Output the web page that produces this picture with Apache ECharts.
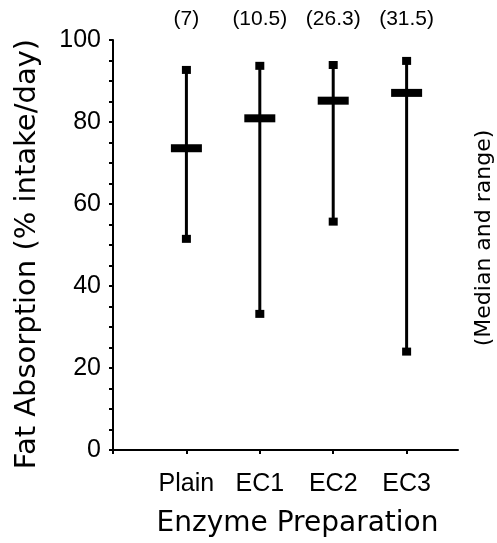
<!DOCTYPE html>
<html>
<head>
<meta charset="utf-8">
<script src="https://cdn.jsdelivr.net/npm/echarts@6/dist/echarts.min.js"></script>
<style>
  html, body { margin: 0; background: #fff; }
  #chart { width: 497px; height: 543px; }
</style>
</head>
<body>
<div id="chart"></div>
<script>
// data
const groups = ['Plain', 'EC1', 'EC2', 'EC3']
const counts = ['(7)', '(10.5)', '(26.3)', '(31.5)']
const medians = [73.6, 80.9, 85.2, 87.1]
const lows = [51.5, 33.2, 55.7, 24.0]
const highs = [92.7, 93.7, 93.9, 94.9]
const yLabels = [0, 20, 40, 60, 80, 100]

const positions = groups.map((g, i) => i + 1)
const rows = groups.map((g, i) => [positions[i], lows[i], medians[i], highs[i]])

const chart = echarts.init(document.getElementById('chart'))

// range line with square ends and a thick median bar
const renderItem = (params, api) => {
  const x = api.value(0)
  const top = api.coord([x, api.value(3)])
  const mid = api.coord([x, api.value(2)])
  const bot = api.coord([x, api.value(1)])
  const black = { fill: '#000' }
  return {
    type: 'group',
    children: [
      { type: 'line', shape: { x1: top[0], y1: top[1], x2: bot[0], y2: bot[1] }, style: { stroke: '#000', lineWidth: 3 } },
      { type: 'rect', shape: { x: top[0] - 4.5, y: top[1] - 4, width: 9, height: 8 }, style: black },
      { type: 'rect', shape: { x: bot[0] - 4.5, y: bot[1] - 4, width: 9, height: 8 }, style: black },
      { type: 'rect', shape: { x: mid[0] - 15.5, y: mid[1] - 4, width: 31, height: 8 }, style: black }
    ]
  }
}

const axisLine = { show: true, lineStyle: { color: '#000', width: 2 } }

chart.setOption({
  backgroundColor: '#fff',
  animation: false,
  grid: { left: 113, right: 39, top: 40, bottom: 91 },
  xAxis: [
    {
      type: 'value',
      min: 0,
      max: 4.7,
      axisLine: axisLine,
      splitLine: { show: false },
      axisTick: { show: true, length: 4, customValues: [0, 1, 2, 3, 4], lineStyle: { color: '#000', width: 2 } },
      axisLabel: {
        customValues: positions,
        formatter: (v) => groups[Math.round(v) - 1] || '',
        margin: 22,
        color: '#000',
        fontFamily: 'Liberation Sans',
        fontSize: 25
      },
      name: 'Enzyme Preparation',
      nameLocation: 'middle',
      nameGap: 60,
      nameTextStyle: { color: '#000', fontFamily: 'DejaVu Sans', fontSize: 28, padding: [0, 0, 0, 24] }
    },
    {
      type: 'value',
      position: 'top',
      min: 0,
      max: 4.7,
      axisLine: { show: false },
      axisTick: { show: false },
      splitLine: { show: false },
      axisLabel: {
        customValues: positions,
        formatter: (v) => counts[Math.round(v) - 1] || '',
        margin: 10,
        color: '#000',
        fontFamily: 'Liberation Sans',
        fontSize: 21
      }
    }
  ],
  yAxis: {
    type: 'value',
    min: 0,
    max: 100,
    interval: 5,
    axisLine: axisLine,
    splitLine: { show: false },
    axisTick: { show: true, length: 4, lineStyle: { color: '#000', width: 2 } },
    axisLabel: {
      customValues: yLabels,
      margin: 12,
      color: '#000',
      fontFamily: 'Liberation Sans',
      fontSize: 25
    },
    name: 'Fat Absorption (% intake/day)',
    nameLocation: 'middle',
    nameGap: 71,
    nameTextStyle: { color: '#000', fontFamily: 'DejaVu Sans', fontSize: 29, padding: [0, 18, 0, 0] }
  },
  graphic: [
    {
      type: 'text',
      x: 484,
      y: 238,
      rotation: Math.PI / 2,
      style: {
        text: '(Median and range)',
        fill: '#000',
        font: '22px "DejaVu Sans"',
        align: 'center',
        verticalAlign: 'middle'
      }
    }
  ],
  series: [
    {
      type: 'custom',
      renderItem: renderItem,
      data: rows,
      encode: { x: 0, y: [1, 2, 3] },
      silent: true
    }
  ]
})
</script>
</body>
</html>
